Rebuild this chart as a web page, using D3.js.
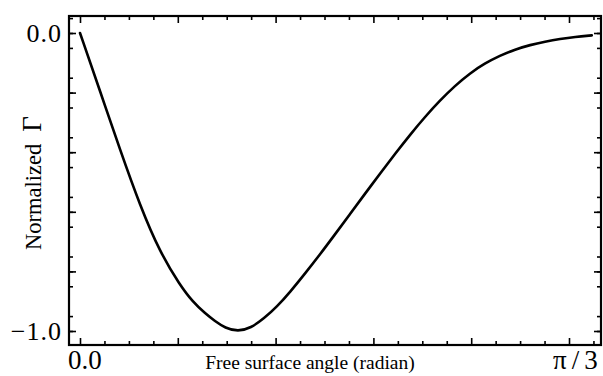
<!DOCTYPE html>
<html>
<head>
<meta charset="utf-8">
<script src="https://cdn.jsdelivr.net/npm/d3@7/dist/d3.min.js"></script>
<style>
  html, body { margin: 0; padding: 0; background: #fff; }
  svg { display: block; font-family: "Liberation Serif", "DejaVu Serif", serif; }
</style>
</head>
<body>
<svg id="chart" width="603" height="376"></svg>
<script>
// free surface angle (radian) and normalized Gamma
const angle = [0, 0.043, 0.086, 0.129, 0.171, 0.214, 0.242, 0.268, 0.289, 0.311, 0.338,
  0.366, 0.394, 0.422, 0.450, 0.482, 0.514, 0.546, 0.578, 0.610, 0.643, 0.675,
  0.707, 0.739, 0.771, 0.803, 0.835, 0.867, 0.899, 0.932, 0.964, 0.996, 1.028, 1.060, 1.096];
const gamma = [0, -0.195, -0.393, -0.581, -0.735, -0.846, -0.903, -0.941, -0.967, -0.990, -1.002,
  -0.990, -0.958, -0.918, -0.869, -0.807, -0.743, -0.676, -0.608, -0.540, -0.471, -0.405,
  -0.341, -0.281, -0.226, -0.177, -0.135, -0.102, -0.076, -0.055, -0.040, -0.029, -0.020, -0.013, -0.008];
const xLabels = ['0.0', 'π/3'];
const yLabels = ['0.0', '−1.0'];

const frame = { left: 69, top: 16, right: 601, bottom: 345 };

const svg = d3.select('#chart');

// scales
const x = d3.scaleLinear().domain([0, Math.PI / 3]).range([80, 569]);
const y = d3.scaleLinear().domain([-1, 0]).range([331, 33]);

const xMajor = d3.range(6).map(i => i * Math.PI / 15);
const xMinor = d3.range(0, 25).map(i => i * Math.PI / 60)
  .filter((v, i) => i % 4 !== 0 && x(v) < frame.right - 2);
const yMajor = d3.range(6).map(i => -1 + i * 0.2);
const yMinor = d3.range(-1, 22).map(i => -1 + i * 0.05)
  .filter((v, i) => (i + 1) % 4 !== 0 && y(v) > frame.top + 2 && y(v) < frame.bottom - 2);

// ticks on all four sides, pointing inward
function tickAxis(axisFn, scale, values, size, pos) {
  const g = svg.append('g')
    .attr('transform', pos)
    .call(axisFn(scale).tickValues(values).tickSize(-size).tickFormat(''));
  g.select('.domain').remove();
  g.selectAll('line').attr('stroke', '#000').attr('stroke-width', 1.6);
  return g;
}
tickAxis(d3.axisBottom, x, xMajor, 7, `translate(0,${frame.bottom})`);
tickAxis(d3.axisBottom, x, xMinor, 4, `translate(0,${frame.bottom})`);
tickAxis(d3.axisTop, x, xMajor, 7, `translate(0,${frame.top})`);
tickAxis(d3.axisTop, x, xMinor, 4, `translate(0,${frame.top})`);
tickAxis(d3.axisLeft, y, yMajor, 7, `translate(${frame.left},0)`);
tickAxis(d3.axisLeft, y, yMinor, 4, `translate(${frame.left},0)`);
tickAxis(d3.axisRight, y, yMajor, 7, `translate(${frame.right},0)`);
tickAxis(d3.axisRight, y, yMinor, 4, `translate(${frame.right},0)`);

// frame
svg.append('rect')
  .attr('x', frame.left).attr('y', frame.top)
  .attr('width', frame.right - frame.left).attr('height', frame.bottom - frame.top)
  .attr('fill', 'none').attr('stroke', '#000').attr('stroke-width', 2.2);

// curve
svg.append('path')
  .datum(angle.map((a, i) => [a, gamma[i]]))
  .attr('fill', 'none')
  .attr('stroke', '#000')
  .attr('stroke-width', 2.6)
  .attr('stroke-linecap', 'round')
  .attr('d', d3.line().x(d => x(d[0])).y(d => y(d[1])).curve(d3.curveBasis));

// tick labels
svg.append('text')
  .attr('x', 68).attr('y', 369)
  .attr('font-size', 27)
  .text(xLabels[0]);
svg.append('text')
  .attr('x', 553).attr('y', 369)
  .attr('font-size', 27)
  .attr('letter-spacing', 5)
  .text(xLabels[1]);

const yEnds = [0, -1];
svg.selectAll('.ylab').data(yLabels).enter().append('text')
  .attr('class', 'ylab')
  .attr('x', 62)
  .attr('y', (d, i) => y(yEnds[i]) + 9)
  .attr('text-anchor', 'end')
  .attr('font-size', 26)
  .attr('letter-spacing', 1)
  .text(d => d);

// axis titles
svg.append('text')
  .attr('x', 310).attr('y', 369)
  .attr('text-anchor', 'middle')
  .attr('font-size', 19.5)
  .text('Free surface angle (radian)');

const yt = svg.append('text')
  .attr('transform', 'translate(41,250) rotate(-90)')
  .attr('text-anchor', 'start');
yt.append('tspan').attr('font-size', 22.5).text('Normalized');
yt.append('tspan').attr('font-size', 27).attr('dx', 12).text('Γ');
</script>
</body>
</html>
